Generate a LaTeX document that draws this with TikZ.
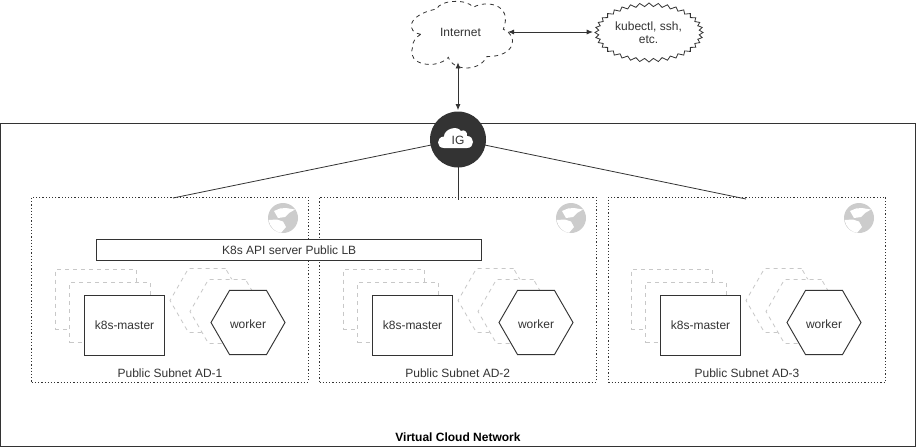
\documentclass[tikz,border=0pt]{standalone}
\usepackage{fontspec}
\setmainfont{Liberation Sans}
\usetikzlibrary{shapes.geometric,arrows.meta}
\definecolor{ink}{HTML}{333333}
\definecolor{ghost}{HTML}{C8C8C8}
\definecolor{globe}{HTML}{CCCCCC}
\tikzset{
  every node/.style={font=\fontsize{9pt}{12pt}\selectfont,text=ink,inner sep=0pt,outer sep=0pt},
  vcnbox/.style={draw=ink,line width=.8pt},
  subnetbox/.style={draw=ink,line width=.6pt,dash pattern=on .9pt off 1.5pt},
  masterbox/.style={draw=ink,line width=.7pt,fill=white,minimum width=60pt,minimum height=44.5pt},
  mastershadow/.style={draw=ghost,line width=.6pt,dashed,fill=white,minimum width=60.5pt,minimum height=45pt},
  workerhex/.style={regular polygon,regular polygon sides=6,draw=ink,line width=.7pt,fill=white,minimum size=55.5pt},
  workershadow/.style={regular polygon,regular polygon sides=6,draw=ghost,line width=.6pt,dashed,fill=white,minimum size=55.5pt},
  lbbox/.style={draw=ink,line width=.7pt,fill=white,minimum width=289pt,minimum height=15.5pt},
  link/.style={draw=ink,line width=.6pt},
  biarrow/.style={draw=ink,line width=.6pt,{Latex[length=4.6pt,width=3.8pt]}-{Latex[length=4.6pt,width=3.8pt]}},
  burst/.style={minimum width=81pt,minimum height=44pt},
  hidden/.style={minimum width=75.5pt,minimum height=44pt},
  igdisc/.style={circle,minimum size=42pt}
}
\begin{document}
\begin{tikzpicture}[x=.75pt,y=-.75pt]
\useasboundingbox (0,0) rectangle (916,447);
\fill[white] (0,0) rectangle (916,447);
% network frame
\node[vcnbox,minimum width=686.25pt,minimum height=242.2pt,anchor=north west] (vcn) at (.5,123.5) {};
\node[font=\fontsize{9pt}{12pt}\selectfont\bfseries,text=black] (vcnlabel) at (458,437) {Virtual Cloud Network};
% subnets
\foreach \i/\o/\l/\r in {1/0/31.7/308.3,2/288/319.5/596,3/576/608.3/885.7}{
  \pgfmathsetmacro{\cx}{(\l+\r)/2}
  \pgfmathsetmacro{\boxw}{(\r-\l)*.75}
  \node[subnetbox,minimum width=\boxw pt,minimum height=138.8pt] (sub\i) at (\cx,289.5) {};
  \node (sublabel\i) at (\cx,373) {Public Subnet AD-\i};
  \begin{scope}[shift={(\o,0)}]
    \node[mastershadow] (ma\i) at (95.7,299) {};
    \node[mastershadow] (mb\i) at (110,312.5) {};
    \node[masterbox] (master\i) at (124.5,325.3) {k8s-master};
    \node[workershadow] (wa\i) at (207,300.5) {};
    \node[workershadow] (wb\i) at (227,311.5) {};
    \node[workerhex] (worker\i) at (248,322.5) {};
    \node (workertext\i) at (248,324) {worker};
    \fill[globe] (283,218) circle (15);
    \begin{scope}[shift={(283,218)}]
      \fill[white] (-9,-7) -- (-3,-9.5) -- (3,-10) -- (12,-8.5) -- (6,-5) -- (2,-1) -- (-5,0) -- cycle;
      \fill[white] (-14.5,2) -- (-6,1.5) -- (0,3.5) -- (3,9) -- (-2,14.8) .. controls (-8,14) and (-13,9) .. (-14.5,2) -- cycle;
    \end{scope}
  \end{scope}
}
% load balancer
\node[lbbox] (lb) at (289.2,250) {K8s API server Public LB};
% internet
\node[hidden] (internet) at (460.5,32) {Internet};
\begin{scope}[shift={(405,0)},x=.25pt,y=-.25pt]
  \draw[ink,line width=.6pt,dashed]
    (47,103) .. controls (5,98) and (2,45) .. (95,27)
    .. controls (105,0) and (185,-5) .. (205,22)
    .. controls (240,0) and (325,10) .. (295,88)
    .. controls (340,105) and (335,170) .. (245,170)
    .. controls (225,215) and (145,215) .. (130,172)
    .. controls (95,210) and (5,195) .. (22,145)
    .. controls (20,125) and (35,110) .. (47,103) -- cycle;
\end{scope}
\node[burst] (kube) at (649,32.5) {};
\draw[ink,line width=.6pt,line join=miter] plot[samples at={0,...,71}] ({649+(mod(\x,2)==0?54:50.5)*cos(\x*5)},{32.5+(mod(\x,2)==0?29.5:26)*sin(\x*5)}) -- cycle;
\node[align=center,font=\fontsize{9pt}{10pt}\selectfont] (kubetext) at (648.5,32.5) {kubectl, ssh,\\etc.};
% links
\coordinate (c1) at (173,198);
\coordinate (c2) at (458,200);
\coordinate (c3) at (746,199);
\node[igdisc] (ig) at (458,139.5) {};
\draw[link] (ig.center) -- (c1);
\draw[link] (ig.center) -- (c2);
\draw[link] (ig.center) -- (c3);
\node[igdisc,fill=ink] (igfill) at (ig) {};
\fill[white] (444,148) .. controls (436,148) and (436,137) .. (444,136.5)
  .. controls (444,129) and (457,125) .. (461,131)
  .. controls (464,129) and (468,132) .. (467,136)
  .. controls (475,136) and (475,148) .. (467,148) -- cycle;
\node (igtext) at (458,140) {IG};
\draw[biarrow] ([xshift=-2.2pt]internet.east) -- ([xshift=-1.6pt]internet.east -| kube.west);
\draw[biarrow] (ig.north |- internet.south) ++(0,1) -- ([yshift=1pt]ig.north);
\end{tikzpicture}
\end{document}
